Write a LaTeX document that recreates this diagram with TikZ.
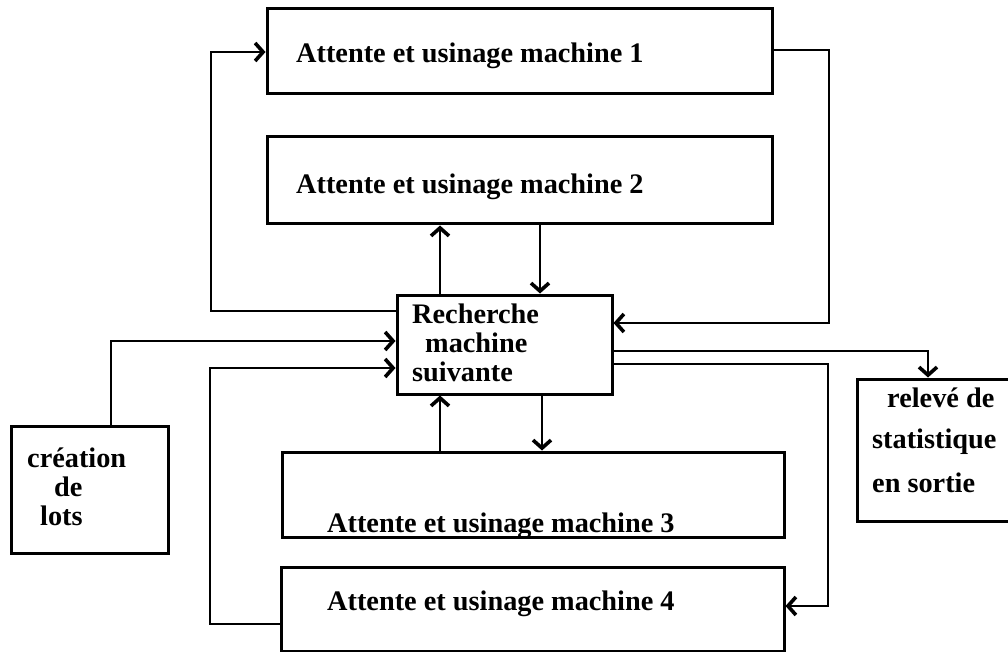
\documentclass[tikz,border=0pt]{standalone}
\usepackage{fontspec}
\setmainfont{Liberation Serif}
\usetikzlibrary{arrows.meta}
\begin{document}
\begin{tikzpicture}[x=1pt,y=-1pt,
  box/.style={draw,line width=3pt,rectangle,inner sep=0pt},
  lbl/.style={anchor=base west,inner sep=0pt,font=\fontsize{28.3}{29}\selectfont\bfseries},
  arr/.style={line width=2.8pt,-{Straight Barb[length=8pt,width=18pt,line width=3.6pt]}}]
\useasboundingbox (0,0) rectangle (1008,652);
% boxes
\node[box,minimum width=505pt,minimum height=85pt] (m1) at (519.5,51.5) {};
\node[box,minimum width=505pt,minimum height=87pt] (m2) at (519.5,180.5) {};
\node[box,minimum width=215pt,minimum height=99pt] (rc) at (504.5,344.5) {};
\node[box,minimum width=502pt,minimum height=85pt] (m3) at (533,494.5) {};
\node[box,minimum width=503pt,minimum height=84pt] (m4) at (532.5,609) {};
\node[box,minimum width=157pt,minimum height=127pt] (cl) at (89.5,489.5) {};
\node[box,minimum width=180pt,minimum height=142pt] (rs) at (947,450) {};
% texts
\node[lbl] (t1) at (296,63) {Attente et usinage machine 1};
\node[lbl] (t2) at (296,194) {Attente et usinage machine 2};
\node[lbl] (t3) at (327,532) {Attente et usinage machine 3};
\node[lbl] (t4) at (327,610) {Attente et usinage machine 4};
\node[lbl] (rc1) at (412,323) {Recherche};
\node[lbl] (rc2) at (425,352) {machine};
\node[lbl] (rc3) at (412,381) {suivante};
\node[lbl] (cl1) at (27,467) {création};
\node[lbl] (cl2) at (54,496) {de};
\node[lbl] (cl3) at (40,525) {lots};
\node[lbl] (rs1) at (887,407) {relevé de};
\node[lbl] (rs2) at (872,448) {statistique};
\node[lbl] (rs3) at (872,492) {en sortie};
% connectors
\draw[arr] (m1.east |- 0,50) -- (829,50) |- (rc.east |- 0,323);
\draw[arr] (rc.west |- 0,311) -- (211,311) |- (m1.west |- 0,52);
\draw[arr] (rc.north -| 440,0) -- (m2.south -| 440,0);
\draw[arr] (m2.south -| 540,0) -- (rc.north -| 540,0);
\draw[arr] (cl.north -| 111,0) |- (rc.west |- 0,341);
\draw[arr] (m4.west |- 0,624) -- (210,624) |- (rc.west |- 0,368);
\draw[arr] (m3.north -| 440,0) -- (rc.south -| 440,0);
\draw[arr] (rc.south -| 542,0) -- (m3.north -| 542,0);
\draw[arr] (rc.east |- 0,351) -| (rs.north -| 928,0);
\draw[arr] (rc.east |- 0,364) -- (828,364) |- (m4.east |- 0,606);
\end{tikzpicture}
\end{document}
